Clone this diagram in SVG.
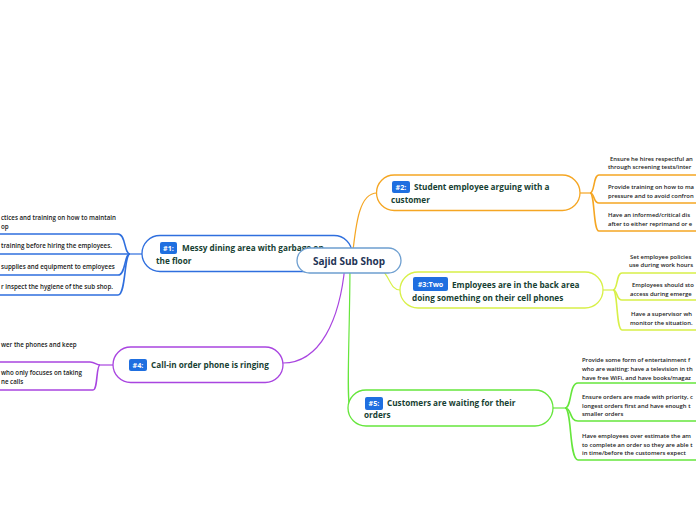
<svg xmlns="http://www.w3.org/2000/svg" width="696" height="520" viewBox="0 0 696 520">
<style>
.pill{fill:#ffffff;stroke-width:1.3}
.nt{font-family:"Open Sans","Noto Sans",sans-serif;font-weight:700;font-size:8.2px;fill:#173f33}
.bt{font-family:"Open Sans","Noto Sans",sans-serif;font-weight:700;font-size:7.2px;fill:#ffffff}
.badge{fill:#1f6fe0}
.ct{font-family:"Open Sans","Noto Sans",sans-serif;font-weight:600;font-size:6.2px;fill:#1a1a1a}
.cr{font-size:5.9px}
.cn{fill:none;stroke-width:1.2}
.ul{fill:none;stroke-width:1.6}
</style>
<rect width="696" height="520" fill="#ffffff"/>
<g id="connectors">
<path class="cn" stroke="#2f6fde" d="M349,260 C349,252 348,250 345,253"/>
<path class="cn" stroke="#f5a623" d="M352,260 C356,220 360,193 377,193"/>
<path class="cn" stroke="#d8f048" d="M360,262 C392,262 386,290 400,290"/>
<path class="cn" stroke="#a945e0" d="M345,265 C340,320 320,363 283,363"/>
<path class="cn" stroke="#66e63c" d="M350,262 C350,330 346,400 350,408"/>
<g stroke="#2f6fde">
<path class="cn" d="M142,254 L130,254"/>
<path class="ul" d="M130,254 C124,254 126,234 118,234 L0,234"/>
<path class="ul" d="M130,254 L0,254"/>
<path class="ul" d="M130,254 C124,254 126,275 118,275 L0,275"/>
<path class="ul" d="M130,254 C124,254 126,295 118,295 L0,295"/>
</g>
<g stroke="#a945e0">
<path class="cn" d="M113,365 L100,365"/>
<path class="ul" d="M100,365 C96,365 95,362 90,362 L0,362"/>
<path class="ul" d="M100,365 C96,365 98,390 93,390 L0,390"/>
</g>
<g stroke="#f5a623">
<path class="cn" d="M580,193 L590,193"/>
<path class="ul" d="M590,193 C595,193 593,175 599,175 L696,175"/>
<path class="ul" d="M590,193 C595,193 593,203 599,203 L696,203"/>
<path class="ul" d="M590,193 C595,193 593,231 599,231 L696,231"/>
</g>
<g stroke="#d8f048">
<path class="cn" d="M603,290 L613,290"/>
<path class="ul" d="M613,290 C618,290 616,273 622,273 L696,273"/>
<path class="ul" d="M613,290 C618,290 616,300 622,300 L696,300"/>
<path class="ul" d="M613,290 C618,290 616,330 622,330 L696,330"/>
</g>
<g stroke="#66e63c">
<path class="cn" d="M553,408 L565,408"/>
<path class="ul" d="M565,408 C572,408 569,383 578,383 L696,383"/>
<path class="ul" d="M565,408 C572,408 569,421 578,421 L696,421"/>
<path class="ul" d="M565,408 C572,408 569,460 578,460 L696,460"/>
</g>
</g>
<g id="n1">
<rect class="pill" x="142" y="235.5" width="210" height="36" rx="18" stroke="#2f6fde"/>
<rect class="badge" x="160" y="242" width="17" height="12" rx="2"/>
<text class="bt" x="168.5" y="250.5" text-anchor="middle">#1:</text>
<text class="nt" x="182" y="250.5">Messy dining area with garbage on</text>
<text class="nt" x="156" y="263.5">the floor</text>
</g>
<g id="c1a"><text class="ct" x="1" y="220">ctices and training on how to maintain</text><text class="ct" x="1" y="229">op</text></g>
<g id="c1b"><text class="ct" x="1" y="248">training before hiring the employees.</text></g>
<g id="c1c"><text class="ct" x="1" y="268.5">supplies and equipment to employees</text></g>
<g id="c1d"><text class="ct" x="1" y="289">r inspect the hygiene of the sub shop.</text></g>
<g id="n4">
<rect class="pill" x="113" y="347" width="170" height="35.5" rx="17.7" stroke="#a945e0"/>
<rect class="badge" x="129" y="359" width="18" height="12" rx="2"/>
<text class="bt" x="138" y="367.5" text-anchor="middle">#4:</text>
<text class="nt" x="151" y="367.5">Call-in order phone is ringing</text>
</g>
<g id="c4a"><text class="ct" x="1" y="346.5">wer the phones and keep</text></g>
<g id="c4b"><text class="ct" x="1" y="375">who only focuses on taking</text><text class="ct" x="1" y="383.5">ne calls</text></g>
<g id="n2">
<rect class="pill" x="376.5" y="175" width="203.5" height="35.5" rx="17.7" stroke="#f5a623"/>
<rect class="badge" x="392" y="181" width="18" height="12" rx="2"/>
<text class="bt" x="401" y="189.5" text-anchor="middle">#2:</text>
<text class="nt" x="414" y="189.5">Student employee arguing with a</text>
<text class="nt" x="391" y="202.5">customer</text>
</g>
<g id="c2a"><text class="ct cr" x="610" y="161">Ensure he hires respectful an</text><text class="ct cr" x="608" y="169">through screening tests/inter</text></g>
<g id="c2b"><text class="ct cr" x="608" y="189">Provide training on how to ma</text><text class="ct cr" x="608" y="197.5">pressure and to avoid confron</text></g>
<g id="c2c"><text class="ct cr" x="608" y="217">Have an informed/critical dis</text><text class="ct cr" x="608" y="225.5">after to either reprimand or e</text></g>
<g id="n3">
<rect class="pill" x="400" y="272" width="203" height="36" rx="18" stroke="#d8f048"/>
<rect class="badge" x="413" y="277" width="35" height="14" rx="2"/>
<text class="bt" x="430.5" y="287" text-anchor="middle">#3:Two</text>
<text class="nt" x="452" y="287.5">Employees are in the back area</text>
<text class="nt" x="412" y="300.5">doing something on their cell phones</text>
</g>
<g id="c3a"><text class="ct cr" x="630" y="259">Set employee policies</text><text class="ct cr" x="629" y="267">use during work hours</text></g>
<g id="c3b"><text class="ct cr" x="632" y="287">Employees should sto</text><text class="ct cr" x="630" y="296">access during emerge</text></g>
<g id="c3c"><text class="ct cr" x="631" y="316">Have a supervisor wh</text><text class="ct cr" x="630" y="324.5">monitor the situation.</text></g>
<g id="n5">
<rect class="pill" x="348" y="390" width="205" height="36" rx="18" stroke="#66e63c"/>
<rect class="badge" x="365" y="397" width="18" height="13" rx="2"/>
<text class="bt" x="374" y="406" text-anchor="middle">#5:</text>
<text class="nt" x="387" y="405.5">Customers are waiting for their</text>
<text class="nt" x="364" y="418">orders</text>
</g>
<g id="c5a"><text class="ct cr" x="582" y="362">Provide some form of entertainment f</text><text class="ct cr" x="582" y="371">who are waiting: have a television in th</text><text class="ct cr" x="582" y="379.5">have free WiFi, and have books/magaz</text></g>
<g id="c5b"><text class="ct cr" x="582" y="399">Ensure orders are made with priority, c</text><text class="ct cr" x="582" y="407.5">longest orders first and have enough t</text><text class="ct cr" x="582" y="416">smaller orders</text></g>
<g id="c5c"><text class="ct cr" x="582" y="438">Have employees over estimate the am</text><text class="ct cr" x="582" y="446.5">to complete an order so they are able t</text><text class="ct cr" x="582" y="455">in time/before the customers expect</text></g>
<g id="center">
<rect x="297" y="248" width="104" height="25" rx="12.5" fill="#ffffff" stroke="#6e9fd0" stroke-width="1.3"/>
<text x="349" y="264.5" text-anchor="middle" font-family="'Open Sans','Noto Sans',sans-serif" font-weight="700" font-size="10px" fill="#1f3556">Sajid Sub Shop</text>
</g>
</svg>
